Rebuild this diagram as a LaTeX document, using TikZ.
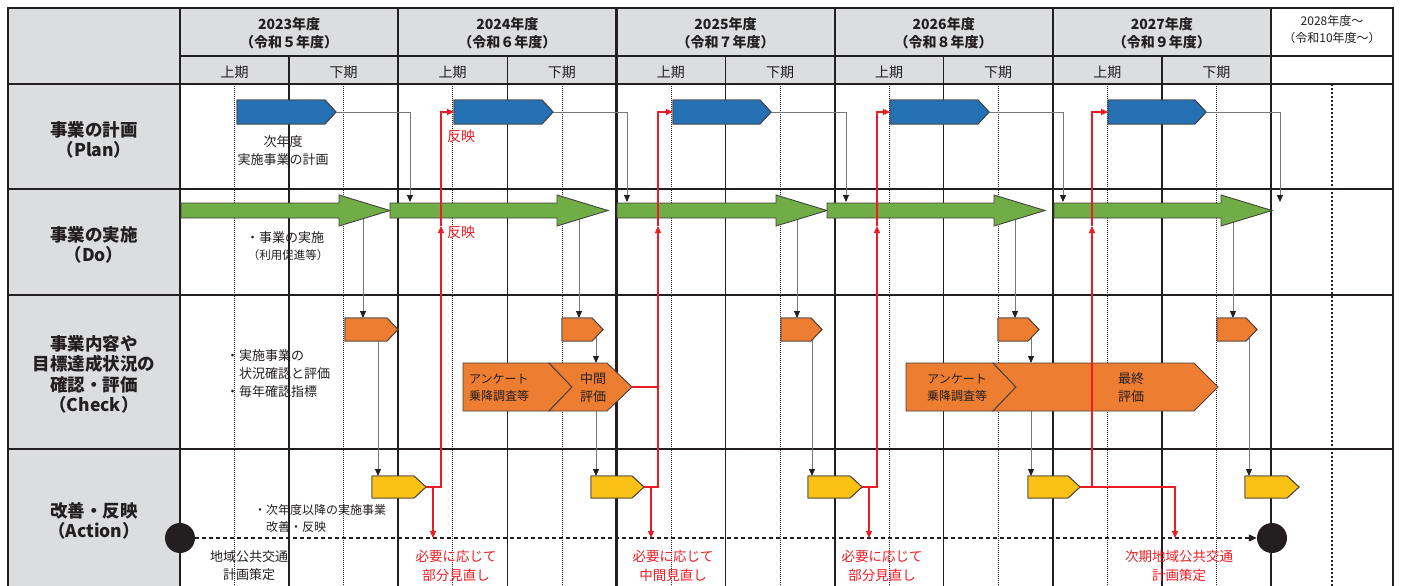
\documentclass[tikz,border=0pt]{standalone}
\usepackage{fontspec}
\setmainfont{Noto Sans CJK JP}
\usetikzlibrary{arrows.meta,calc}
\definecolor{hdr}{RGB}{220,221,223}
\definecolor{cdark}{RGB}{35,31,32}
\definecolor{cgray}{RGB}{120,120,120}
\definecolor{cblue}{RGB}{37,113,180}
\definecolor{cgreen}{RGB}{112,173,71}
\definecolor{corange}{RGB}{237,125,49}
\definecolor{cyellow}{RGB}{251,193,21}
\definecolor{cred}{RGB}{237,28,36}
\newcommand\pentbox[7]{%
  \node[inner sep=0pt,outer sep=0pt,minimum width={(#4-#3)*1pt},minimum height={(#6-#5)*1pt}] (#1) at ({(#3+#4)/2},{(#5+#6)/2}) {};
  \draw[#2] (#1.north west) -- ([xshift=-#7pt]#1.north east) -- (#1.east) -- ([xshift=-#7pt]#1.south east) -- (#1.south west) -- cycle;
}
\newcommand\grarrow[3]{%
  \node[inner sep=0pt,outer sep=0pt,minimum width={(#3-#2)*1pt},minimum height=31pt] (#1) at ({(#2+#3)/2},210.5) {};
  \draw[garr] (#2,203) -- ({#3-51},203) -- ({#3-51},195) -- (#3,210.5) -- ({#3-51},226) -- ({#3-51},218) -- (#2,218) -- cycle;
}
\begin{document}
\begin{tikzpicture}[x=1pt,y=-1pt,
  every node/.style={text=cdark},
  shp/.style={draw=cdark!85,line width=0.9pt,line join=miter},
  bluebox/.style={shp,fill=cblue},
  orbox/.style={shp,fill=corange},
  yebox/.style={shp,fill=cyellow},
  garr/.style={shp,fill=cgreen},
  conn/.style={draw=cgray,line width=0.9pt,-{Triangle[length=7pt,width=6pt,color=cdark]}},
  redl/.style={draw=cred,line width=1.2pt},
  reda/.style={redl,-{Triangle[length=7pt,width=6pt]}},
  lbl/.style={font=\bfseries\fontsize{17.5}{20.3}\selectfont,align=center,inner sep=0pt},
  hd/.style={font=\bfseries\fontsize{14}{18}\selectfont,align=center,inner sep=0pt},
  sub/.style={font=\fontsize{14}{16}\selectfont,inner sep=0pt},
  t13/.style={font=\fontsize{13}{18}\selectfont,align=center,inner sep=0pt},
  t12/.style={font=\fontsize{12}{17}\selectfont,align=center,inner sep=0pt},
  redt/.style={font=\fontsize{13.5}{19}\selectfont,align=center,inner sep=0pt,text=cred},
  dashl/.style={draw=cdark,line width=1.2pt,dash pattern=on 4pt off 3pt,-{Triangle[length=8pt,width=7pt]}}
]
\useasboundingbox (0,0) rectangle (1403,586);
% backgrounds
\fill[hdr] (8,8) rectangle (180,586);
\fill[hdr] (180,8) rectangle (1271,84);
% dotted lines
\foreach \x in {234.5,343.6,452.7,561.8,670.9,780,889.1,998.2,1107.3,1216.4}
  \draw[cdark,line width=0.6pt,dash pattern=on 1pt off 1pt] (\x,84) -- (\x,586);
\draw[cdark,line width=1.5pt,dash pattern=on 2pt off 2pt] (1332,84) -- (1332,586);
% horizontal lines
\draw[cdark,line width=2pt] (7,8) -- (1394,8);
\draw[cdark,line width=1.2pt] (180,56) -- (1393,56);
\draw[cdark,line width=1.5pt] (8,84) -- (1393,84);
\foreach \y in {189,295,449}
  \draw[cdark,line width=1.6pt] (8,\y) -- (1393,\y);
% vertical lines
\draw[cdark,line width=2pt] (8,8) -- (8,586);
\draw[cdark,line width=2pt] (1393,8) -- (1393,586);
\foreach \x in {180,398.2,616.4,834.6,1052.8,1271}
  \draw[cdark,line width=2.2pt] (\x,8) -- (\x,586);
\foreach \x in {289.1,507.3,725.5,943.7,1161.9}
  \draw[cdark,line width=1.4pt] (\x,56) -- (\x,586);
% header texts
\foreach \i/\yr/\wa in {0/2023/５,1/2024/６,2/2025/７,3/2026/８,4/2027/９} {
  \node[hd] (yr\i) at ({289.1+218.2*\i},33) {\yr 年度\\（令和\wa 年度）};
  \node[sub] (ha\i) at ({234.5+218.2*\i},72) {上期};
  \node[sub] (hb\i) at ({343.6+218.2*\i},72) {下期};
}
\node[t12] (yr5) at (1332,30) {2028年度～\\（令和10年度～）};
% row labels
\node[lbl] (lplan) at (94,140) {事業の計画\\（Plan）};
\node[lbl] (ldo) at (94,245) {事業の実施\\（Do）};
\node[lbl] (lchk) at (94,374.5) {事業内容や\\目標達成状況の\\確認・評価\\（Check）};
\node[lbl] (lact) at (94,521) {改善・反映\\（Action）};
% helper coordinates
\coordinate (pd23) at (410,202);
\coordinate (pd24) at (627,202);
\coordinate (pd25) at (846,202);
\coordinate (pd26) at (1063,202);
\coordinate (pd27) at (1280,202);
\coordinate (dc23) at (363,218);
\coordinate (dc24) at (579,218);
\coordinate (dc25) at (797,218);
\coordinate (dc26) at (1015,218);
\coordinate (dc27) at (1233,218);
\coordinate (ca23) at (378,329);
\coordinate (ca24) at (596,329);
\coordinate (ca25) at (812,329);
\coordinate (ca26) at (1031,329);
\coordinate (ca27) at (1249,329);
% shape nodes (positions)
\node[inner sep=0pt,outer sep=0pt,minimum width=169pt,minimum height=48pt] (bigA) at (547.5,387) {};
\node[inner sep=0pt,outer sep=0pt,minimum width=312pt,minimum height=48pt] (bigB) at (1062,387) {};
% blue plan boxes
\pentbox{b23}{bluebox}{237}{336}{100}{124}{11}
\pentbox{b24}{bluebox}{454}{553}{100}{124}{11}
\pentbox{b25}{bluebox}{673}{771}{100}{124}{11}
\pentbox{b26}{bluebox}{890}{989}{100}{124}{11}
\pentbox{b27}{bluebox}{1108}{1206}{100}{124}{11}
% small orange
\pentbox{o23}{orbox}{345}{398}{318}{341}{11}
\pentbox{o24}{orbox}{562}{603}{318}{341}{11}
\pentbox{o25}{orbox}{781}{822}{318}{341}{11}
\pentbox{o26}{orbox}{998}{1039}{318}{341}{11}
\pentbox{o27}{orbox}{1217}{1257}{318}{341}{11}
% yellow
\pentbox{y23}{yebox}{372}{426}{476}{498}{12}
\pentbox{y24}{yebox}{591}{644}{476}{498}{12}
\pentbox{y25}{yebox}{808}{862}{476}{498}{12}
\pentbox{y26}{yebox}{1028}{1080}{476}{498}{12}
\pentbox{y27}{yebox}{1245}{1299}{476}{498}{12}
% gray connectors (under shapes)
\draw[conn] (b23.east) -| (pd23);
\draw[conn] (b24.east) -| (pd24);
\draw[conn] (b25.east) -| (pd25);
\draw[conn] (b26.east) -| (pd26);
\draw[conn] (b27.east) -| (pd27);
\draw[conn] (dc23) -- (dc23 |- o23.north);
\draw[conn] (dc24) -- (dc24 |- o24.north);
\draw[conn] (dc25) -- (dc25 |- o25.north);
\draw[conn] (dc26) -- (dc26 |- o26.north);
\draw[conn] (dc27) -- (dc27 |- o27.north);
\draw[conn] (ca23) -- (ca23 |- y23.north);
\draw[conn] (ca24) -- (ca24 |- bigA.north);
\draw[conn] (ca24 |- bigA.south) -- (ca24 |- y24.north);
\draw[conn] (ca25) -- (ca25 |- y25.north);
\draw[conn] (ca26) -- (ca26 |- bigB.north);
\draw[conn] (ca26 |- bigB.south) -- (ca26 |- y26.north);
\draw[conn] (ca27) -- (ca27 |- y27.north);
% redraw shapes on top of connectors
\pentbox{b23}{bluebox}{237}{336}{100}{124}{11}
\pentbox{b24}{bluebox}{454}{553}{100}{124}{11}
\pentbox{b25}{bluebox}{673}{771}{100}{124}{11}
\pentbox{b26}{bluebox}{890}{989}{100}{124}{11}
\pentbox{b27}{bluebox}{1108}{1206}{100}{124}{11}
\pentbox{o23}{orbox}{345}{398}{318}{341}{11}
\pentbox{o24}{orbox}{562}{603}{318}{341}{11}
\pentbox{o25}{orbox}{781}{822}{318}{341}{11}
\pentbox{o26}{orbox}{998}{1039}{318}{341}{11}
\pentbox{o27}{orbox}{1217}{1257}{318}{341}{11}
% green do arrows
\grarrow{g23}{181}{390}
\grarrow{g24}{390}{608}
\grarrow{g25}{617}{827}
\grarrow{g26}{827}{1045}
\grarrow{g27}{1054}{1272}
% big orange boxes
\draw[orbox] (bigA.north west) -- (549,363) -- (572,387) -- (549,411) -- (bigA.south west) -- cycle;
\draw[orbox] (549,363) -- (607,363) -- (bigA.east) -- (607,411) -- (549,411) -- (572,387) -- cycle;
\draw[orbox] (bigB.north west) -- (993,363) -- (1016,387) -- (993,411) -- (bigB.south west) -- cycle;
\draw[orbox] (993,363) -- (1194,363) -- (bigB.east) -- (1194,411) -- (993,411) -- (1016,387) -- cycle;
\node[t12,align=left,anchor=west] (qa) at (469,387.5) {アンケート\\乗降調査等};
\node[t13] (ma) at (593,388) {中間\\評価};
\node[t12] (qb) at (957,387.5) {アンケート\\乗降調査等};
\node[t13] (mb) at (1131,388) {最終\\評価};
% yellow redraw
\pentbox{y23}{yebox}{372}{426}{476}{498}{12}
\pentbox{y24}{yebox}{591}{644}{476}{498}{12}
\pentbox{y25}{yebox}{808}{862}{476}{498}{12}
\pentbox{y26}{yebox}{1028}{1080}{476}{498}{12}
\pentbox{y27}{yebox}{1245}{1299}{476}{498}{12}
% dashed timeline with circles
\node[circle,fill=cdark,minimum size=30pt,inner sep=0pt] (c1) at (180,538) {};
\node[circle,fill=cdark,minimum size=30pt,inner sep=0pt] (c2) at (1272,538) {};
\draw[dashl] (c1) -- (c2);
% red coordinates
\coordinate (r23) at (441,226);
\coordinate (r24) at (658,226);
\coordinate (r25) at (877,226);
\coordinate (r26) at (1092,226);
\coordinate (e23) at (433,538);
\coordinate (e24) at (651,538);
\coordinate (e25) at (869,538);
\coordinate (e26) at (1175,538);
% red connectors
\draw[reda] (y23.east) -| (r23);
\draw[reda] (r23) |- (b24.west);
\draw[reda,line width=1.1pt] (e23 |- y23.east) -- (e23);
\draw[redl,line width=1.1pt] (bigA.east) -- (bigA.east -| r24);
\draw[reda] (y24.east) -| (r24);
\draw[reda] (r24) |- (b25.west);
\draw[reda,line width=1.1pt] (e24 |- y24.east) -- (e24);
\draw[reda] (y25.east) -| (r25);
\draw[reda] (r25) |- (b26.west);
\draw[reda,line width=1.1pt] (e25 |- y25.east) -- (e25);
\draw[reda,line width=1.2pt] (y26.east) -| (e26);
\draw[reda] (r26 |- y26.east) -- (r26);
\draw[reda] (r26) |- (b27.west);
% row texts
\node[t13] (tplan) at (283,151) {次年度\\実施事業の計画};
\node[t13] (tdo1) at (285,238) {・事業の実施};
\node[font=\fontsize{11.5}{13}\selectfont,inner sep=0pt] (tdo2) at (288,255) {（利用促進等）};
\node[t13,align=left,anchor=west] (tchk) at (226,374) {・実施事業の\\　状況確認と評価\\・毎年確認指標};
\node[t12,align=left,anchor=west] (tact) at (254,518.5) {・次年度以降の実施事業\\　改善・反映};
\node[t13] (tpol) at (249,566) {地域公共交通\\計画策定};
\node[redt,font=\fontsize{14}{16}\selectfont] (f1) at (461,136) {反映};
\node[redt,font=\fontsize{14}{16}\selectfont] (f2) at (461,232) {反映};
\node[redt] (n23) at (456,566) {必要に応じて\\部分見直し};
\node[redt] (n24) at (673,566) {必要に応じて\\中間見直し};
\node[redt] (n25) at (882,566) {必要に応じて\\部分見直し};
\node[redt] (n26) at (1179,566) {次期地域公共交通\\計画策定};
\end{tikzpicture}
\end{document}
